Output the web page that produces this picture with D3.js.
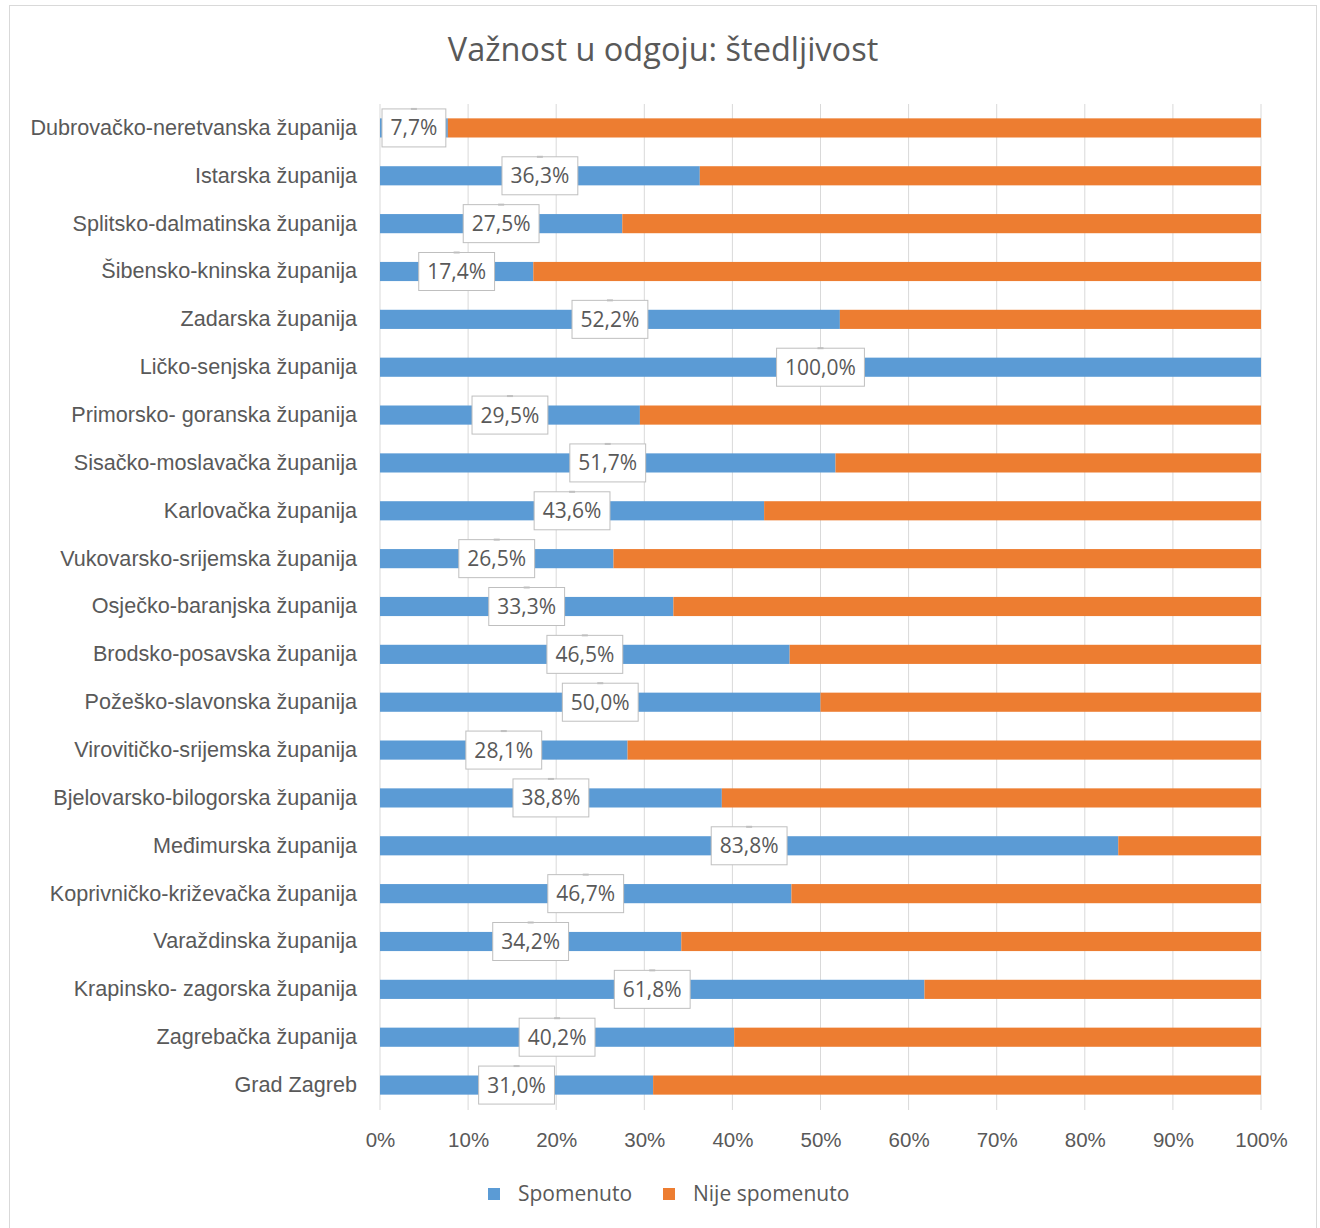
<!DOCTYPE html>
<html>
<head>
<meta charset="utf-8">
<script src="https://cdn.jsdelivr.net/npm/d3@7"></script>
<style>
  body { margin: 0; background: #fff; }
  svg { font-family: "Open Sans", "Noto Sans", sans-serif; }
</style>
</head>
<body>
<div id="chart"></div>
<script>
// data, top row first
const counties = [
  "Dubrovačko-neretvanska županija", "Istarska županija", "Splitsko-dalmatinska županija",
  "Šibensko-kninska županija", "Zadarska županija", "Ličko-senjska županija",
  "Primorsko- goranska županija", "Sisačko-moslavačka županija", "Karlovačka županija",
  "Vukovarsko-srijemska županija", "Osječko-baranjska županija", "Brodsko-posavska županija",
  "Požeško-slavonska županija", "Virovitičko-srijemska županija", "Bjelovarsko-bilogorska županija",
  "Međimurska županija", "Koprivničko-križevačka županija", "Varaždinska županija",
  "Krapinsko- zagorska županija", "Zagrebačka županija", "Grad Zagreb"
];
const spomenuto = [7.7, 36.3, 27.5, 17.4, 52.2, 100.0, 29.5, 51.7, 43.6, 26.5, 33.3,
  46.5, 50.0, 28.1, 38.8, 83.8, 46.7, 34.2, 61.8, 40.2, 31.0];
const nijeSpomenuto = spomenuto.map(v => 100 - v);
const seriesNames = ["Spomenuto", "Nije spomenuto"];
const seriesColors = ["#5B9BD5", "#ED7D31"];
const xTicks = [0, 10, 20, 30, 40, 50, 60, 70, 80, 90, 100];

const W = 1320, H = 1228;
const textCol = "#595959";

const svg = d3.select("#chart").append("svg")
  .attr("width", W).attr("height", H);

svg.append("rect")
  .attr("x", 9.5).attr("y", 5.5).attr("width", 1307).attr("height", 1240)
  .attr("fill", "#fff").attr("stroke", "#D9D9D9");

svg.append("text")
  .attr("x", 663).attr("y", 61)
  .attr("text-anchor", "middle")
  .attr("font-size", 32.5).attr("fill", textCol)
  .text("Važnost u odgoju: štedljivost");

const x = d3.scaleLinear().domain([0, 100]).range([380, 1261]);
const y = d3.scaleBand().domain(counties).range([104, 1109]).paddingInner(0.6).paddingOuter(0.3);

// gridlines
svg.append("g").selectAll("line").data(xTicks).join("line")
  .attr("x1", d => x(d)).attr("x2", d => x(d))
  .attr("y1", 104).attr("y2", 1110)
  .attr("stroke", "#D9D9D9").attr("stroke-width", 1);

// x axis labels
const xAxis = d3.axisBottom(x).tickValues(xTicks).tickFormat(d => d + "%").tickSize(0).tickPadding(0);
const gx = svg.append("g").attr("transform", "translate(0,1132)").call(xAxis);
gx.select(".domain").remove();
gx.selectAll("text").attr("font-size", 20.5).attr("fill", textCol).attr("font-family", null);

// y axis labels
const yAxis = d3.axisLeft(y).tickSize(0).tickPadding(23);
const gy = svg.append("g").attr("transform", "translate(380,0)").call(yAxis);
gy.select(".domain").remove();
gy.selectAll("text").attr("font-size", 21.6).attr("fill", textCol).attr("font-family", null);

// stacked bars
const rows = counties.map((c, i) => ({ c, a: spomenuto[i], b: nijeSpomenuto[i] }));
const stack = d3.stack().keys(["a", "b"])(rows);

svg.append("g").selectAll("g").data(stack).join("g")
  .attr("fill", (d, i) => seriesColors[i])
  .selectAll("rect").data(d => d).join("rect")
  .attr("x", d => x(d[0]))
  .attr("width", d => x(d[1]) - x(d[0]))
  .attr("y", d => y(d.data.c))
  .attr("height", y.bandwidth());

// data labels
const fmt = v => v.toFixed(1).replace(".", ",") + "%";
const lab = svg.append("g").selectAll("g").data(rows).join("g")
  .attr("transform", d => `translate(${x(d.a / 2)},${y(d.c) + y.bandwidth() / 2})`);

lab.each(function(d) {
  const g = d3.select(this);
  const rect = g.append("rect").attr("fill", "#fff").attr("stroke", "#BFBFBF");
  const t = g.append("text")
    .attr("text-anchor", "middle").attr("dy", "0.36em")
    .attr("font-size", 21).attr("fill", textCol)
    .text(fmt(d.a));
  const w = t.node().getComputedTextLength() + 17;
  rect.attr("x", -w / 2).attr("y", -19).attr("width", w).attr("height", 38);
  g.append("line")
    .attr("x1", -3).attr("x2", 3).attr("y1", -19).attr("y2", -19)
    .attr("stroke", "#BFBFBF").attr("stroke-width", 2);
});

// legend
const leg = svg.append("g").attr("transform", "translate(488,1194)");
const legX = [0, 175];
seriesNames.forEach((n, i) => {
  leg.append("rect").attr("x", legX[i]).attr("y", -6).attr("width", 12).attr("height", 12)
    .attr("fill", seriesColors[i]);
  leg.append("text").attr("x", legX[i] + 30).attr("y", 0).attr("dy", "0.35em")
    .attr("font-size", 21).attr("fill", textCol).text(n);
});
</script>
</body>
</html>
